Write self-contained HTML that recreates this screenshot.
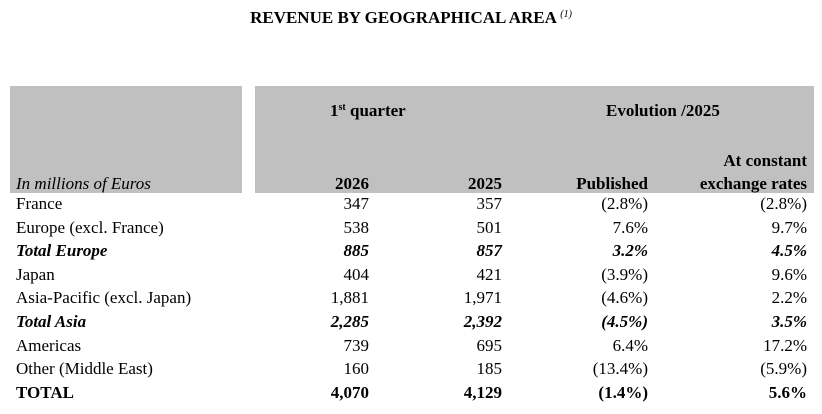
<!DOCTYPE html>
<html><head><style>
body{margin:0;width:822px;height:414px;background:#fff;position:relative;font-family:"Liberation Serif",serif;font-size:17px;color:#000;overflow:hidden}
div{position:absolute;white-space:nowrap;line-height:18px}
sup{line-height:0;vertical-align:6px}
.g{background:#c0c0c0}
.r{text-align:right}
.b{font-weight:bold}
.i{font-style:italic}
</style></head><body>
<div class="b" style="left:0;width:822px;text-align:center;top:9px;font-size:17px">REVENUE BY GEOGRAPHICAL AREA <sup style="font-size:10px;font-weight:normal;font-style:italic">(1)</sup></div>
<div class="g" style="left:10px;top:86px;width:232px;height:107px"></div>
<div class="g" style="left:255px;top:86px;width:559px;height:107px"></div>
<div class="b" style="left:330px;top:102px">1<sup style="font-size:10px">st</sup> quarter</div>
<div class="b" style="left:606px;top:102px">Evolution /2025</div>
<div class="b r" style="right:15px;top:152px">At constant</div>
<div class="i" style="left:16px;top:175px">In millions of Euros</div>
<script>
var rows=[["France","347","357","(2.8%)","(2.8%)",0],["Europe (excl. France)","538","501","7.6%","9.7%",0],["Total Europe","885","857","3.2%","4.5%",2],["Japan","404","421","(3.9%)","9.6%",0],["Asia-Pacific (excl. Japan)","1,881","1,971","(4.6%)","2.2%",0],["Total Asia","2,285","2,392","(4.5%)","3.5%",2],["Americas","739","695","6.4%","17.2%",0],["Other (Middle East)","160","185","(13.4%)","(5.9%)",0],["TOTAL","4,070","4,129","(1.4%)","5.6%",1]];
var h='<div class="b r" style="right:453px;top:175px">2026</div><div class="b r" style="right:320px;top:175px">2025</div><div class="b r" style="right:174px;top:175px">Published</div><div class="b r" style="right:15px;top:175px">exchange rates</div>';
rows.forEach(function(r,i){var t=195+i*23.6;var c=r[5]==2?'b i':r[5]==1?'b':'';var c2=r[5]?'b i':'';if(r[5]==1)c2='b';
h+='<div class="'+c+'" style="left:16px;top:'+t+'px">'+r[0]+'</div>';
h+='<div class="r '+c2+'" style="right:453px;top:'+t+'px">'+r[1]+'</div>';
h+='<div class="r '+c2+'" style="right:320px;top:'+t+'px">'+r[2]+'</div>';
h+='<div class="r '+c2+'" style="right:174px;top:'+t+'px">'+r[3]+'</div>';
h+='<div class="r '+c2+'" style="right:15px;top:'+t+'px">'+r[4]+'</div>';});
document.write(h);
</script>
</body></html>
